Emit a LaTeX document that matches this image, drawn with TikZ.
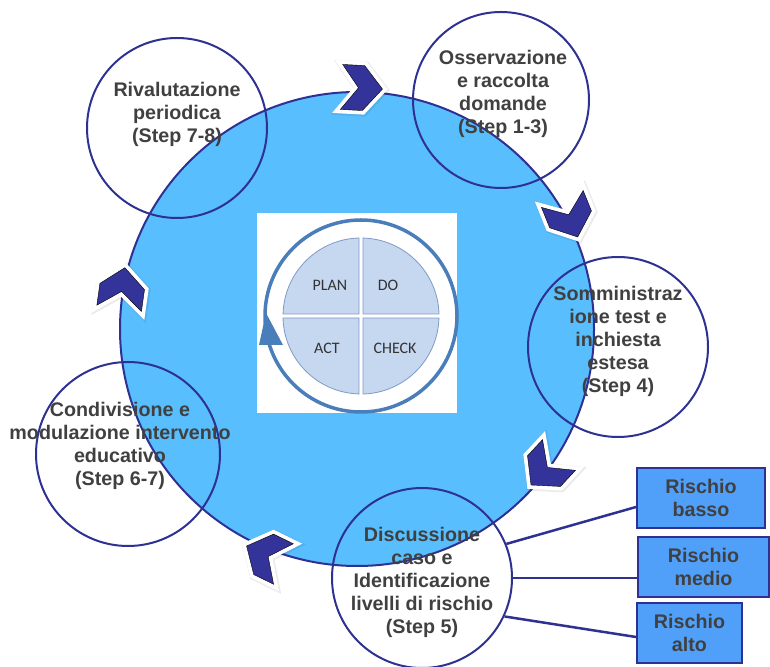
\documentclass[tikz,border=0pt]{standalone}
\usepackage{fontspec}
\setmainfont{Liberation Sans}
\newfontfamily\pdcafont{Carlito}
\usetikzlibrary{positioning}
\definecolor{cyclefill}{RGB}{88,190,253}
\definecolor{navy}{RGB}{46,49,146}
\definecolor{chevblue}{RGB}{51,51,153}
\definecolor{riskfill}{RGB}{80,160,250}
\definecolor{labelgray}{RGB}{64,64,64}
\definecolor{quadfill}{RGB}{198,215,240}
\definecolor{quadline}{RGB}{127,155,200}
\definecolor{ringblue}{RGB}{74,126,187}
\tikzset{
  stepcircle/.style={circle,draw=navy,line width=2pt,inner sep=0pt,minimum size=#1},
  steptext/.style={align=center,text=labelgray,font=\fontsize{19.7}{23}\selectfont\bfseries},
  riskbox/.style={draw=navy,line width=2pt,fill=riskfill,inner sep=0pt,minimum height=60pt,
    align=center,text=labelgray,font=\fontsize{19.7}{23}\selectfont\bfseries},
  link/.style={navy,line width=2.5pt},
  quad/.style={fill=quadfill,draw=quadline,line width=0.8pt},
  pdcalabel/.style={text=black!80,font=\pdcafont\fontsize{16}{17}\selectfont},
  chevron/.style={fill=chevblue,line join=miter,
    preaction={draw=black,opacity=0.08,line width=10pt,line join=miter,transform canvas={shift={(0.8pt,-0.8pt)}}},
    preaction={draw=white,line width=8pt,line join=miter}}
}
\begin{document}
\begin{tikzpicture}[x=1pt,y=1pt]
\useasboundingbox (0,0) rectangle (770,666);
% big cycle
\node[circle,draw=navy,line width=2pt,fill=cyclefill,inner sep=0pt,minimum size=474pt] (cycle) at (357,337) {};
% steps
\node[stepcircle=180pt] (riv) at (177,538) {};
\node[stepcircle=176pt] (oss) at (501,566) {};
\node[stepcircle=180pt] (som) at (618,319) {};
\node[stepcircle=180pt] (disc) at (422,88) {};
\node[stepcircle=184pt] (cond) at (128,212) {};
% PDCA picture
\fill[white] (257,253) rectangle (457,453);
\begin{scope}[shift={(361,350)}]
\draw[quad] (2,2) -- (78,2) arc[start angle=1.5,end angle=88.5,radius=78] -- cycle;
\draw[quad] (-2,2) -- (-2,78) arc[start angle=91.5,end angle=178.5,radius=78] -- cycle;
\draw[quad] (-2,-2) -- (-78,-2) arc[start angle=181.5,end angle=268.5,radius=78] -- cycle;
\draw[quad] (2,-2) -- (2,-78) arc[start angle=271.5,end angle=358.5,radius=78] -- cycle;
\draw[ringblue,line width=3.5pt] (0,0) circle (96);
\fill[ringblue] (-102,-29) -- (-78,-29) -- (-95,3) -- cycle;
\end{scope}
\node[pdcalabel] (plan) at (330,381) {PLAN};
\node[pdcalabel] (do) at (388,381) {DO};
\node[pdcalabel] (act) at (327,318) {ACT};
\node[pdcalabel] (check) at (395,318) {CHECK};
% chevrons
\foreach \p/\d in {{362,578}/-3, {570,448}/-68, {545,196}/-133, {265,111}/154, {122,378}/82}
  \draw[chevron,shift={(\p)},rotate=\d] (-20.5,22.5) -- (1.5,22.5) -- (20.5,0) -- (1.5,-22.5) -- (-20.5,-22.5) -- (-3.5,0) -- cycle;
% step labels
\node[steptext] (rivtext) at (177,552) {Rivalutazione\\periodica\\(Step 7-8)};
\node[steptext] (osstext) at (503,572) {Osservazione\\e raccolta\\domande\\(Step 1-3)};
\node[steptext] (somtext) at (618,325) {Somministraz\\ione test e\\inchiesta\\estesa\\(Step 4)};
\node[steptext] (disctext) at (422,84) {Discussione\\caso e\\Identificazione\\livelli di rischio\\(Step 5)};
\node[steptext] (condtext) at (120,220) {Condivisione e\\modulazione intervento\\educativo\\(Step 6-7)};
% risk levels
\node[riskbox,minimum width=128pt] (basso) at (701,168) {Rischio\\basso};
\node[riskbox,minimum width=131pt] (medio) at (703.5,99) {Rischio\\medio};
\node[riskbox,minimum width=105pt] (alto) at (689.5,33) {Rischio\\alto};
\draw[link] (disc.22) -- ([yshift=-9pt]basso.west);
\draw[link] (disc.east) -- (disc.east -| medio.west);
\draw[link] (disc.-25) -- ([yshift=-4pt]alto.west);
\end{tikzpicture}
\end{document}
